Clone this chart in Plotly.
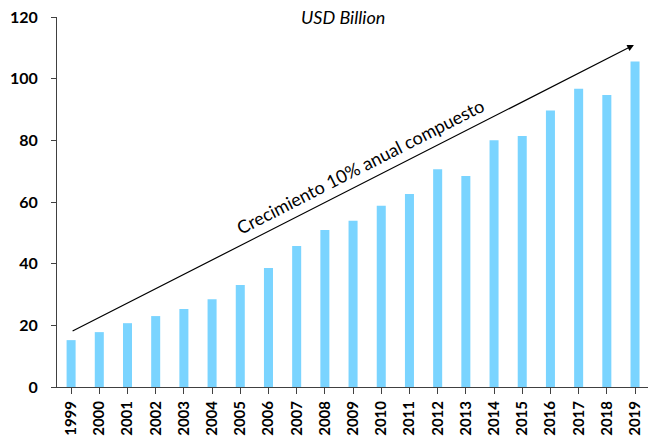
import plotly.graph_objects as go

years = [str(y) for y in range(1999, 2020)]
values = [15.2, 17.8, 20.7, 23.0, 25.3, 28.5, 33.1, 38.6, 45.7, 50.9, 53.9,
          58.8, 62.6, 70.6, 68.4, 80.0, 81.4, 89.7, 96.7, 94.7, 105.6]
y_ticks = [0, 20, 40, 60, 80, 100, 120]

# Trend arrow endpoints (category index, value)
trend_start = (0, 17.9)
trend_end = (19.96, 110.9)
trend_label = "Crecimiento 10% anual compuesto"
subtitle = "USD Billion"

font_family = "Lato"
axis_color = "#404040"

fig = go.Figure()
fig.add_trace(go.Bar(
    x=list(range(len(years))),
    y=values,
    marker=dict(color="#7AD4FF", line=dict(width=0)),
    width=0.32,
    hoverinfo="skip",
))

fig.add_annotation(
    x=trend_end[0], y=trend_end[1], ax=trend_start[0], ay=trend_start[1],
    xref="x", yref="y", axref="x", ayref="y",
    showarrow=True, arrowhead=2, arrowsize=1.1, arrowwidth=1.2,
    arrowcolor="#000000", text="",
)
fig.add_annotation(
    x=10.28, y=71.6, xref="x", yref="y",
    text=trend_label, showarrow=False, textangle=-27,
    font=dict(family=font_family, size=18, color="#000000"),
)
fig.add_annotation(
    x=9.64, y=119.9, xref="x", yref="y",
    text="<i>" + subtitle + "</i>", showarrow=False,
    font=dict(family=font_family, size=18, color="#000000"),
)

fig.update_layout(
    width=648, height=437,
    margin=dict(l=57, r=0, t=17, b=50, autoexpand=False),
    paper_bgcolor="white", plot_bgcolor="white",
    showlegend=False,
    font=dict(family=font_family, color="#000000"),
)
fig.update_xaxes(
    range=[-0.5, 20.46],
    tickmode="array",
    tickvals=list(range(len(years))),
    ticktext=["<b>" + y + "</b>" for y in years],
    tickangle=-90,
    tickfont=dict(family=font_family, size=15, color="#000000"),
    showline=True, linecolor=axis_color, linewidth=1,
    showgrid=False, zeroline=False,
    ticks="outside", ticklen=6, tickcolor=axis_color,
    ticklabelstandoff=1,
)
fig.update_yaxes(
    range=[0, 120],
    tickmode="array",
    tickvals=y_ticks,
    ticktext=["<b>" + str(v) + "</b>" for v in y_ticks],
    tickfont=dict(family=font_family, size=16, color="#000000"),
    showline=True, linecolor=axis_color, linewidth=1,
    showgrid=False, zeroline=False,
    ticks="outside", ticklen=5, tickcolor=axis_color,
    ticklabelstandoff=10,
)

fig.write_html("out.html")
